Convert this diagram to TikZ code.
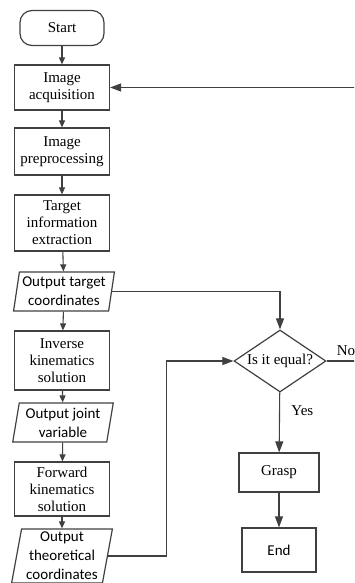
\documentclass[tikz,border=0pt]{standalone}
\usepackage{fontspec}
\setmainfont{Liberation Serif}
\newfontfamily\sansfnt{Carlito}
\usetikzlibrary{arrows.meta,positioning,shapes.geometric}
\definecolor{lincol}{RGB}{64,64,64}

\begin{document}
\begin{tikzpicture}[
  x=1pt, y=1pt,
  font=\fontsize{15}{17}\selectfont,
  proc/.style={rectangle, draw=lincol, line width=1.2pt, minimum width=95pt, text width=90pt,
               align=center, inner xsep=2pt, inner ysep=1pt},
  term/.style={proc, rounded corners=12pt, minimum width=84pt, text width=80pt, minimum height=35pt},
  io/.style={trapezium, trapezium left angle=80, trapezium right angle=100, trapezium stretches=true,
             draw=lincol, line width=1.2pt, minimum width=101pt, align=center,
             font=\sansfnt\fontsize{15}{19}\selectfont, inner xsep=0pt, inner ysep=1pt},
  dec/.style={diamond, draw=lincol, line width=1.2pt, minimum width=92pt, minimum height=62pt,
              inner sep=0pt, aspect=1.5},
  arr/.style={-{Triangle[length=7pt, width=6pt]}, draw=lincol, line width=1.1pt},
  bigarr/.style={-{Triangle[length=11pt, width=8pt]}, draw=lincol, line width=1.1pt}
]
\clip (0,0) rectangle (354,-583);

% left column
\node[term] (start) at (62,-28) {Start};
\node[proc, minimum height=45pt] (acq) at (62,-87.5) {Image\\acquisition};
\node[proc, minimum height=47pt] (pre) at (62,-151.5) {Image\\preprocessing};
\node[proc, minimum height=56pt] (ext) at (62,-223) {Target\\information\\extraction};
\node[io, minimum height=39pt] (otc) at (64,-291.5) {Output target\\coordinates};
\node[proc, minimum height=59pt] (inv) at (62,-360.5) {Inverse\\kinematics\\solution};
\node[io, minimum height=39pt] (ojv) at (63,-422.5) {Output joint\\variable};
\node[proc, minimum height=54pt] (fwd) at (62,-489) {Forward\\kinematics\\solution};
\node[io, minimum height=54pt] (oth) at (62,-556) {Output\\theoretical\\coordinates};

% right column
\node[dec] (eq) at (280,-361) {Is it equal?};
\node[proc, minimum width=80pt, text width=76pt, minimum height=39pt] (grasp) at (279,-472.5) {Grasp};
\node[proc, minimum width=74pt, text width=70pt, minimum height=44pt,
      font=\sansfnt\fontsize{15}{18}\selectfont] (end) at (279,-550) {End};
\node[anchor=base west, inner sep=0pt] (no) at ([xshift=10pt, yshift=6pt]eq.east) {No};

\draw[arr] (start) -- (acq);
\draw[arr] (acq) -- (pre);
\draw[arr] (pre) -- (ext);
\draw[arr] (ext) -- (otc);
\draw[arr] (otc) -- (inv);
\draw[arr] (inv) -- (ojv);
\draw[arr] (ojv) -- (fwd);
\draw[arr] (fwd) -- (oth);

\draw[bigarr] (otc.east) -| (eq.north);
\draw[bigarr] (oth.east) -| ([xshift=-67pt]eq.west) -- (eq.west);
\draw[bigarr] (eq.east) -- ++(60,0) |- (acq.east);
\draw[bigarr] (eq) -- node[right=8pt, pos=0.3] {Yes} (grasp);
\draw[bigarr] (grasp) -- (end);

\end{tikzpicture}
\end{document}
